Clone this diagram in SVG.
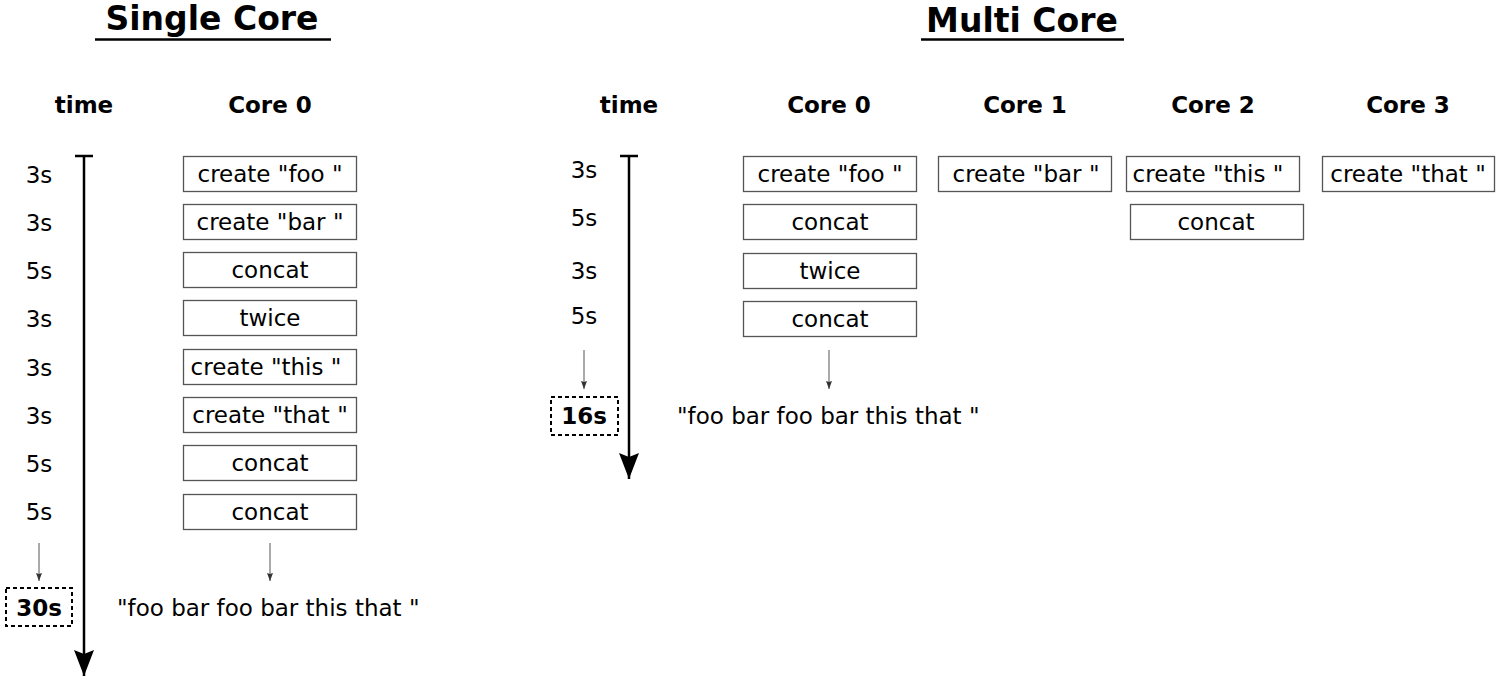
<svg xmlns="http://www.w3.org/2000/svg" width="1500" height="680" viewBox="0 0 1500 680">
<style>
text{font-family:"DejaVu Sans","Liberation Sans",sans-serif;fill:#000}
.title{font-size:33px;font-weight:bold;text-anchor:middle}
.head{font-size:23px;font-weight:bold;text-anchor:middle}
.t{font-size:23px;text-anchor:middle}
.res{font-size:23px}
.tot{font-size:23px;font-weight:bold;text-anchor:middle}
.box{fill:#fff;stroke:#555;stroke-width:1.3}
.dash{fill:none;stroke:#000;stroke-width:2;stroke-dasharray:4,3}
.axis{stroke:#000;stroke-width:2.5;fill:none}
.thin{stroke:#555;stroke-width:1;fill:none}
.ul{stroke:#000;stroke-width:2.5}
</style>
<defs>
<marker id="big" viewBox="0 0 26 20" refX="26" refY="10" markerUnits="userSpaceOnUse" markerWidth="26" markerHeight="20" orient="auto">
<path d="M0,0 L4,10 L0,20 L26,10 Z" fill="#000"/>
</marker>
<marker id="small" viewBox="0 0 8 6" refX="8" refY="3" markerUnits="userSpaceOnUse" markerWidth="8" markerHeight="6" orient="auto">
<path d="M0,0 L1,3 L0,6 L8,3 Z" fill="#333"/>
</marker>
</defs>

<g id="single-title">
<text class="title" x="212" y="30">Single Core</text>
<line class="ul" x1="95" y1="39.5" x2="331" y2="39.5"/>
</g>
<g id="multi-title">
<text class="title" x="1022" y="32">Multi Core</text>
<line class="ul" x1="921" y1="39.5" x2="1124" y2="39.5"/>
</g>

<g id="single-headers">
<text class="head" x="84" y="113">time</text>
<text class="head" x="270" y="113">Core 0</text>
</g>
<g id="multi-headers">
<text class="head" x="629" y="113">time</text>
<text class="head" x="829" y="113">Core 0</text>
<text class="head" x="1025" y="113">Core 1</text>
<text class="head" x="1213" y="113">Core 2</text>
<text class="head" x="1408" y="113">Core 3</text>
</g>

<g id="single-times">
<text class="t" x="39" y="183">3s</text>
<text class="t" x="39" y="231">3s</text>
<text class="t" x="39" y="279">5s</text>
<text class="t" x="39" y="327">3s</text>
<text class="t" x="39" y="376">3s</text>
<text class="t" x="39" y="424">3s</text>
<text class="t" x="39" y="472">5s</text>
<text class="t" x="39" y="520">5s</text>
</g>
<g id="multi-times">
<text class="t" x="584" y="178">3s</text>
<text class="t" x="584" y="226">5s</text>
<text class="t" x="584" y="279">3s</text>
<text class="t" x="584" y="324">5s</text>
</g>

<g id="s1"><rect class="box" x="183.5" y="156.5" width="173" height="35"/><text class="t" x="270" y="182">create "foo "</text></g>
<g id="s2"><rect class="box" x="183.5" y="204.5" width="173" height="35"/><text class="t" x="270" y="230">create "bar "</text></g>
<g id="s3"><rect class="box" x="183.5" y="252.5" width="173" height="35"/><text class="t" x="270" y="278">concat</text></g>
<g id="s4"><rect class="box" x="183.5" y="300.5" width="173" height="35"/><text class="t" x="270" y="326">twice</text></g>
<g id="s5"><rect class="box" x="183.5" y="349.5" width="173" height="35"/><text class="t" x="266" y="375">create "this "</text></g>
<g id="s6"><rect class="box" x="183.5" y="397.5" width="173" height="35"/><text class="t" x="270" y="423">create "that "</text></g>
<g id="s7"><rect class="box" x="183.5" y="445.5" width="173" height="35"/><text class="t" x="270" y="471">concat</text></g>
<g id="s8"><rect class="box" x="183.5" y="494.5" width="173" height="35"/><text class="t" x="270" y="520">concat</text></g>

<g id="m0a"><rect class="box" x="743.5" y="156.5" width="173" height="35"/><text class="t" x="830" y="182">create "foo "</text></g>
<g id="m0b"><rect class="box" x="743.5" y="204.5" width="173" height="35"/><text class="t" x="830" y="230">concat</text></g>
<g id="m0c"><rect class="box" x="743.5" y="253.5" width="173" height="35"/><text class="t" x="830" y="279">twice</text></g>
<g id="m0d"><rect class="box" x="743.5" y="301.5" width="173" height="35"/><text class="t" x="830" y="327">concat</text></g>
<g id="m1a"><rect class="box" x="938.5" y="156.5" width="173" height="35"/><text class="t" x="1026" y="182">create "bar "</text></g>
<g id="m2a"><rect class="box" x="1126.5" y="156.5" width="173" height="35"/><text class="t" x="1208" y="182">create "this "</text></g>
<g id="m2b"><rect class="box" x="1130.5" y="204.5" width="173" height="35"/><text class="t" x="1216" y="230">concat</text></g>
<g id="m3a"><rect class="box" x="1322.5" y="156.5" width="172" height="35"/><text class="t" x="1408" y="182">create "that "</text></g>

<g id="single-total"><rect class="dash" x="6" y="588" width="66" height="38"/><text class="tot" x="39" y="616">30s</text></g>
<g id="single-result"><text class="res" x="117" y="616">"foo bar foo bar this that "</text></g>
<g id="multi-total"><rect class="dash" x="551" y="397" width="67" height="38"/><text class="tot" x="584" y="424">16s</text></g>
<g id="multi-result"><text class="res" x="677" y="424">"foo bar foo bar this that "</text></g>

<g id="connectors">
<line class="axis" x1="75" y1="156" x2="93" y2="156"/>
<line class="axis" x1="84" y1="156" x2="84" y2="676" marker-end="url(#big)"/>
<line class="axis" x1="620" y1="156" x2="638" y2="156"/>
<line class="axis" x1="629" y1="156" x2="629" y2="479" marker-end="url(#big)"/>
<line class="thin" x1="39" y1="543" x2="39" y2="581" marker-end="url(#small)"/>
<line class="thin" x1="270" y1="543" x2="270" y2="581" marker-end="url(#small)"/>
<line class="thin" x1="584" y1="350" x2="584" y2="389" marker-end="url(#small)"/>
<line class="thin" x1="829" y1="350" x2="829" y2="389" marker-end="url(#small)"/>
</g>
</svg>
